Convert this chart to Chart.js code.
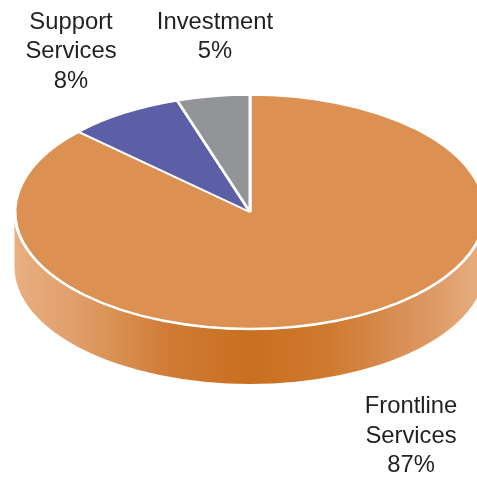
<!DOCTYPE html>
<html>
<head>
<meta charset="utf-8">
<title>Spending split</title>
<script src="https://cdn.jsdelivr.net/npm/chart.js@4/dist/chart.umd.js"></script>
<style>
    html, body { margin: 0; padding: 0; background: #fff; overflow: hidden; width: 477px; height: 479px; }
    canvas { display: block; }
</style>
</head>
<body>
<canvas id="pie" width="500" height="500"></canvas>
<script>
const categories = ['Frontline Services', 'Support Services', 'Investment'];
const shares = [87, 8, 5];
const sliceColors = ['#dc9153', '#5c5ea6', '#929497'];

// where each label block is centred, and the baseline of its first line
const labelSpots = [[411, 413], [71, 28.5], [215, 28.5]];

const tilt = 0.498;      // vertical squash of the pie
const discY = 212;       // centre of the top face on the page
const wallDepth = 55;
const wallStops = [
    [0, '#e9af81'], [0.13, '#e09e6a'], [0.22, '#d98f50'], [0.33, '#d07a35'], [0.5, '#c96f20'],
    [0.67, '#cf7a30'], [0.82, '#d98f55'], [0.9, '#de9c68'], [1, '#e9af81']
];

// draws the tilted disc: side wall first, then the arcs squashed, then the rim and labels
const tiltedPie = {
    id: 'tiltedPie',
    beforeDatasetsDraw(chart) {
        let ctx = chart.ctx;
        let arc = chart.getDatasetMeta(0).data[0];
        let rx = arc.outerRadius;
        let ry = rx * tilt;

        let wall = ctx.createLinearGradient(arc.x - rx, 0, arc.x + rx, 0);
        wallStops.forEach(s => wall.addColorStop(s[0], s[1]));

        ctx.save();
        ctx.beginPath();
        ctx.ellipse(arc.x, discY + wallDepth, rx + 0.5, ry, 0, Math.PI, 0, true);
        ctx.lineTo(arc.x + rx + 0.5, discY);
        ctx.ellipse(arc.x, discY, rx + 0.5, ry, 0, 0, Math.PI, false);
        ctx.closePath();
        ctx.fillStyle = wall;
        ctx.fill();
        ctx.restore();

        ctx.save();
        ctx.translate(0, discY);
        ctx.scale(1, tilt);
        ctx.translate(0, -arc.y);
    },
    afterDatasetsDraw(chart) {
        let ctx = chart.ctx;
        ctx.restore();

        let arc = chart.getDatasetMeta(0).data[0];
        let rx = arc.outerRadius;

        // white rim between top face and wall
        ctx.save();
        ctx.beginPath();
        ctx.ellipse(arc.x, discY, rx, rx * tilt, 0, 0, Math.PI, false);
        ctx.strokeStyle = '#fff';
        ctx.lineWidth = 2.5;
        ctx.stroke();
        ctx.restore();

        ctx.save();
        ctx.font = '23.8px "Liberation Sans", Arial, sans-serif';
        ctx.fillStyle = '#231f20';
        ctx.textAlign = 'center';
        ctx.textBaseline = 'alphabetic';
        categories.forEach((name, i) => {
            let lines = name.split(' ').concat(shares[i] + '%');
            lines.forEach((line, n) => {
                ctx.fillText(line, labelSpots[i][0], labelSpots[i][1] + n * 29.5);
            });
        });
        ctx.restore();
    }
};

new Chart(document.getElementById('pie'), {
    type: 'pie',
    data: {
        labels: categories,
        datasets: [{
            data: shares,
            backgroundColor: sliceColors,
            borderColor: '#fff',
            borderWidth: 3,
            clip: false
        }]
    },
    options: {
        responsive: false,
        animation: false,
        layout: { padding: 13.5 },
        plugins: {
            legend: { display: false },
            tooltip: { enabled: false }
        }
    },
    plugins: [tiltedPie]
});
</script>
</body>
</html>
